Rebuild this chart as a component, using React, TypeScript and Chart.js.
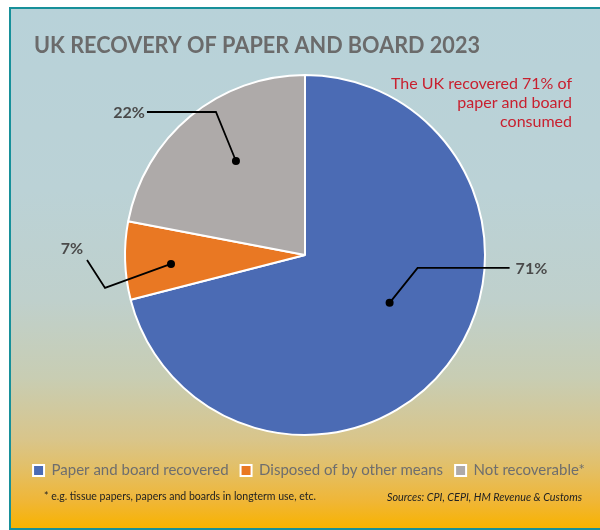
import React, { useEffect, useRef } from "react";
import { Chart, registerables } from "chart.js";

Chart.register(...registerables);

// ---- data ----
const categories = ["Paper and board recovered", "Disposed of by other means", "Not recoverable*"];
const values = [71, 7, 22];
const sliceColors = ["#4b6bb4", "#e97823", "#aeaaa9"];
const titleText = "UK RECOVERY OF PAPER AND BOARD 2023";
const noteLines = ["The UK recovered 71% of", "paper and board", "consumed"];
const footnoteText = "* e.g. tissue papers, papers and boards in longterm use, etc.";
const sourcesText = "Sources: CPI, CEPI, HM Revenue & Customs";

// ---- leader line styling (relative to each slice's geometry) ----
const leaderStyle = [
  { frac: 0.54, shift: -8.3, elbow: [28, -35], end: [120, -35], label: [6, 1], align: "left" },
  { frac: 0.746, shift: -2, elbow: [-66, 24], end: [-84, -4], label: [-15, -11], align: "center" },
  { frac: 0.648, shift: 3.3, elbow: [-20, -49], end: [-89, -49], label: [-2, 1], align: "right" },
];

function fitText(ctx: CanvasRenderingContext2D, text: string, x: number, y: number, width: number) {
  const w = ctx.measureText(text).width;
  ctx.save();
  ctx.translate(x, y);
  ctx.scale(width / w, 1);
  ctx.fillText(text, 0, 0);
  ctx.restore();
}

const leaderPlugin = {
  id: "leaders",
  afterDatasetsDraw(chart: any) {
    const ctx: CanvasRenderingContext2D = chart.ctx;
    const meta = chart.getDatasetMeta(0);
    meta.data.forEach((arc: any, i: number) => {
      const st = leaderStyle[i];
      const { x, y, startAngle, endAngle, outerRadius } = arc.getProps(["x", "y", "startAngle", "endAngle", "outerRadius"], true);
      const mid = (startAngle + endAngle) / 2 + (st.shift * Math.PI) / 180;
      const dx = x + Math.cos(mid) * outerRadius * st.frac;
      const dy = y + Math.sin(mid) * outerRadius * st.frac;
      const ex = dx + st.elbow[0], ey = dy + st.elbow[1];
      const fx = dx + st.end[0], fy = dy + st.end[1];
      ctx.save();
      ctx.strokeStyle = "#000";
      ctx.lineWidth = 1.8;
      ctx.lineJoin = "miter";
      ctx.beginPath();
      ctx.moveTo(dx, dy);
      ctx.lineTo(ex, ey);
      ctx.lineTo(fx, fy);
      ctx.stroke();
      ctx.fillStyle = "#000";
      ctx.beginPath();
      ctx.arc(dx, dy, 4, 0, Math.PI * 2);
      ctx.fill();
      ctx.fillStyle = "#4a4a4a";
      ctx.font = "bold 16px Lato";
      ctx.textAlign = st.align as CanvasTextAlign;
      ctx.textBaseline = "middle";
      ctx.fillText(values[i] + "%", fx + st.label[0], fy + st.label[1]);
      ctx.restore();
    });
  },
};

const textPlugin = {
  id: "texts",
  afterDraw(chart: any) {
    const ctx: CanvasRenderingContext2D = chart.ctx;
    ctx.save();
    ctx.textBaseline = "alphabetic";
    // title
    ctx.fillStyle = "#6b6b6b";
    ctx.font = "bold 22px Lato";
    ctx.textAlign = "left";
    fitText(ctx, titleText, 34, 53, 446);
    // red note
    ctx.fillStyle = "#c8202f";
    ctx.font = "16px Lato";
    ctx.textAlign = "right";
    noteLines.forEach((t, i) => ctx.fillText(t, 572, 89 + i * 19));
    // footnotes
    ctx.fillStyle = "#222";
    ctx.font = "11px Lato";
    ctx.textAlign = "left";
    fitText(ctx, footnoteText, 44, 500, 272);
    ctx.font = "italic 11px Lato";
    ctx.textAlign = "right";
    fitText(ctx, sourcesText, 582, 501, 195);
    ctx.restore();
  },
};

const legendNudge = {
  id: "legendNudge",
  afterLayout(chart: any) {
    if (chart.legend) {
      chart.legend.left += 4;
      chart.legend.right += 4;
    }
  },
};

export default function App() {
  const ref = useRef<HTMLCanvasElement | null>(null);
  useEffect(() => {
    if (!ref.current) return;
    const chart = new Chart(ref.current, {
      type: "pie",
      data: {
        labels: categories,
        datasets: [
          {
            data: values,
            backgroundColor: sliceColors,
            borderColor: "#ffffff",
            borderWidth: 2,
            hoverOffset: 0,
            radius: 180,
          } as any,
        ],
      },
      options: {
        responsive: false,
        animation: false,
        devicePixelRatio: 1,
        events: [],
        layout: { padding: { top: 59, bottom: 42, left: 10, right: 0 } },
        plugins: {
          legend: {
            position: "bottom",
            labels: {
              boxWidth: 11,
              boxHeight: 11,
              padding: 12,
              color: "#6e6e6e",
              font: { family: "Lato", size: 15 },
            },
          },
          title: { display: false },
          tooltip: { enabled: false },
        },
      },
      plugins: [leaderPlugin, textPlugin, legendNudge],
    });
    return () => chart.destroy();
  }, []);

  return (
    <div style={{ position: "absolute", left: 0, top: 0, width: 600, height: 530, overflow: "hidden", background: "#fff" }}>
      <div
        style={{
          position: "absolute",
          left: 9,
          top: 7,
          width: 600,
          height: 519,
          borderLeft: "2px solid #17909a",
          borderTop: "2px solid #17909a",
          borderBottom: "2px solid #17909a",
          background:
            "linear-gradient(to bottom, #b8d2d9 0%, #bbd2d6 35%, #bfd0cc 56%, #c8cdb3 71%, #d0c99f 77%, #d9c58a 83%, #e2c06a 88%, #f0b635 95%, #f8b300 100%)",
        }}
      />
      <canvas ref={ref} width={600} height={530} style={{ position: "absolute", left: 0, top: 0 }} />
    </div>
  );
}
